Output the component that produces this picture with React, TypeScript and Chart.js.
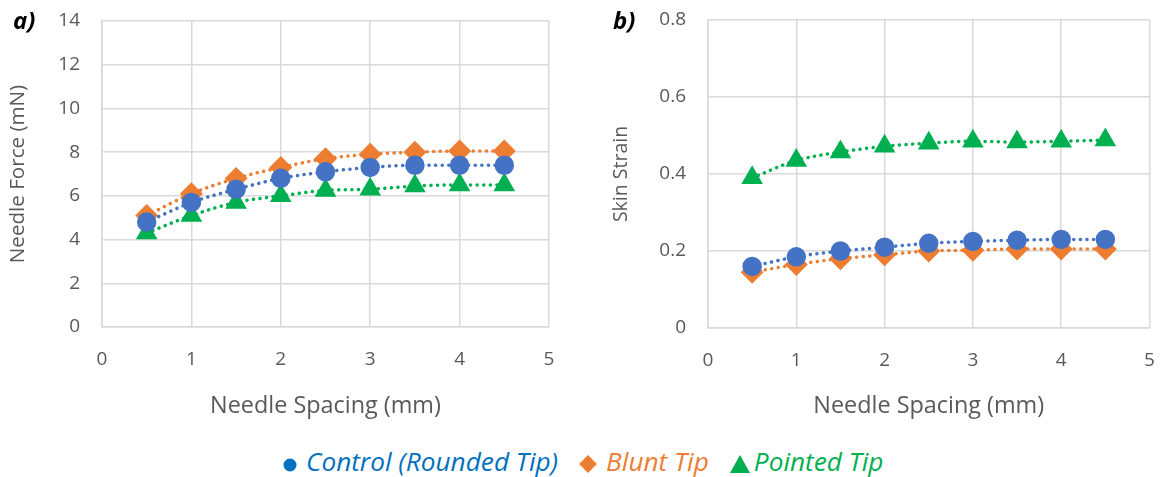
import React, { useEffect, useRef } from "react";
import { Chart, registerables } from "chart.js";

Chart.register(...registerables);

const spacing = [0.5, 1, 1.5, 2, 2.5, 3, 3.5, 4, 4.5];

const forceControl = [4.8, 5.7, 6.3, 6.8, 7.1, 7.3, 7.4, 7.4, 7.4];
const forceBlunt = [5.1, 6.1, 6.8, 7.3, 7.7, 7.9, 8.0, 8.05, 8.05];
const forcePointed = [4.3, 5.1, 5.7, 6.0, 6.25, 6.3, 6.45, 6.5, 6.5];

const strainControl = [0.16, 0.185, 0.2, 0.21, 0.22, 0.225, 0.228, 0.23, 0.23];
const strainBlunt = [0.145, 0.165, 0.18, 0.19, 0.2, 0.202, 0.205, 0.205, 0.205];
const strainPointed = [0.39, 0.435, 0.457, 0.472, 0.48, 0.485, 0.483, 0.485, 0.488];

const seriesNames = ["Control (Rounded Tip)", "Blunt Tip", "Pointed Tip"];
const markerColors = ["#4472C4", "#ED7D31", "#00B050"];
const legendColors = ["#0070C0", "#ED7D31", "#00B050"];
const pointStyles = ["circle", "rectRot", "triangle"];
const pointRadii = [8, 9, 9];

const FONT = "'Open Sans', sans-serif";
const TEXT = "#595959";
const GRID = "#D9D9D9";

type PanelProps = {
  left: number;
  width: number;
  height: number;
  series: number[][];
  yMax: number;
  yStep: number;
  yTitle: string;
  yTitleSize: number;
  yTitlePad: number;
  axisWidth: number;
  padRight: number;
  padTop: number;
  plotBottom: number;
  decimals: number;
};

function Panel(p: PanelProps) {
  const ref = useRef<HTMLCanvasElement | null>(null);
  useEffect(() => {
    if (!ref.current) return;
    const datasets = p.series.map((vals, i) => ({
      label: seriesNames[i],
      data: spacing.map((x, k) => ({ x, y: vals[k] })),
      borderColor: markerColors[i],
      backgroundColor: markerColors[i],
      pointBackgroundColor: markerColors[i],
      pointBorderColor: markerColors[i],
      pointStyle: pointStyles[i],
      pointRadius: pointRadii[i],
      borderWidth: 3.5,
      borderDash: [0.1, 6.5],
      borderCapStyle: "round" as const,
      cubicInterpolationMode: "monotone" as const,
      order: i === 0 ? 0 : i === 1 ? 2 : 1,
    }));
    const chart = new Chart(ref.current, {
      type: "line",
      data: { datasets },
      options: {
        animation: false,
        responsive: false,
        maintainAspectRatio: false,
        layout: { padding: { left: 0, right: p.padRight, top: p.padTop, bottom: 0 } },
        plugins: { legend: { display: false }, tooltip: { enabled: false } },
        scales: {
          x: {
            type: "linear",
            min: 0,
            max: 5,
            ticks: { stepSize: 1, color: TEXT, font: { family: FONT, size: 19 }, padding: 21 },
            grid: { color: GRID, lineWidth: 1.5, drawTicks: false },
            border: { color: GRID, width: 1.5 },
            title: {
              display: true,
              text: "Needle Spacing (mm)",
              color: TEXT,
              font: { family: FONT, size: 23.4 },
              padding: { top: 8, bottom: 0 },
            },
            afterFit: (s: any) => {
              s.height = p.height - p.plotBottom;
              s.paddingLeft = 0;
              s.paddingRight = 0;
            },
          },
          y: {
            min: 0,
            max: p.yMax,
            ticks: {
              stepSize: p.yStep,
              color: TEXT,
              font: { family: FONT, size: 19 },
              padding: 22,
              callback: (v: any) => (Number(v) === 0 ? "0" : Number(v).toFixed(p.decimals)),
            },
            grid: { color: GRID, lineWidth: 1.5, drawTicks: false },
            border: { color: GRID, width: 1.5 },
            title: {
              display: true,
              text: p.yTitle,
              color: TEXT,
              font: { family: FONT, size: p.yTitleSize },
              padding: { top: p.yTitlePad, bottom: 0 },
            },
            afterFit: (s: any) => {
              s.width = p.axisWidth;
              s.paddingTop = 0;
              s.paddingBottom = 0;
            },
          },
        },
      },
    });
    return () => chart.destroy();
  }, []);
  return (
    <canvas
      ref={ref}
      width={p.width}
      height={p.height}
      style={{ position: "absolute", left: p.left, top: 0, width: p.width, height: p.height }}
    />
  );
}

function LegendSymbol({ i }: { i: number }) {
  const c = markerColors[i];
  if (i === 0)
    return (
      <svg width="14" height="14" style={{ marginRight: 9, verticalAlign: "-1px" }}>
        <circle cx="7" cy="7" r="6.5" fill={legendColors[0]} />
      </svg>
    );
  if (i === 1)
    return (
      <svg width="18" height="18" style={{ marginRight: 9, verticalAlign: "-2px" }}>
        <polygon points="9,0 18,9 9,18 0,9" fill={c} />
      </svg>
    );
  return (
    <svg width="20" height="18" style={{ marginRight: 4, verticalAlign: "-2px" }}>
      <polygon points="10,0 20,18 0,18" fill={c} />
    </svg>
  );
}

export default function App() {
  return (
    <div
      style={{
        position: "absolute",
        left: 0,
        top: 0,
        width: 1162,
        height: 477,
        background: "#fff",
        overflow: "hidden",
        fontFamily: FONT,
      }}
    >
      <Panel
        left={0}
        width={580}
        height={420}
        series={[forceControl, forceBlunt, forcePointed]}
        yMax={14}
        yStep={2}
        yTitle="Needle Force (mN)"
        yTitleSize={20.6}
        yTitlePad={6}
        axisWidth={102}
        padRight={31}
        padTop={21}
        plotBottom={327}
        decimals={0}
      />
      <Panel
        left={580}
        width={582}
        height={420}
        series={[strainControl, strainBlunt, strainPointed]}
        yMax={0.8}
        yStep={0.2}
        yTitle="Skin Strain"
        yTitleSize={19.5}
        yTitlePad={30}
        axisWidth={128}
        padRight={12}
        padTop={20}
        plotBottom={328}
        decimals={1}
      />
      <div
        style={{
          position: "absolute",
          left: 13,
          top: 3,
          fontWeight: "bold",
          fontStyle: "italic",
          fontSize: 24,
          color: "#000",
        }}
      >
        a)
      </div>
      <div
        style={{
          position: "absolute",
          left: 613,
          top: 3,
          fontWeight: "bold",
          fontStyle: "italic",
          fontSize: 24,
          color: "#000",
        }}
      >
        b)
      </div>
      <div
        style={{
          position: "absolute",
          left: 283,
          top: 444,
          display: "flex",
          gap: 21,
          fontStyle: "italic",
          fontSize: 26.2,
          lineHeight: "34px",
          whiteSpace: "nowrap",
        }}
      >
        {seriesNames.map((n, i) => (
          <span key={n} style={{ color: legendColors[i] }}>
            <LegendSymbol i={i} />
            {n}
          </span>
        ))}
      </div>
    </div>
  );
}
